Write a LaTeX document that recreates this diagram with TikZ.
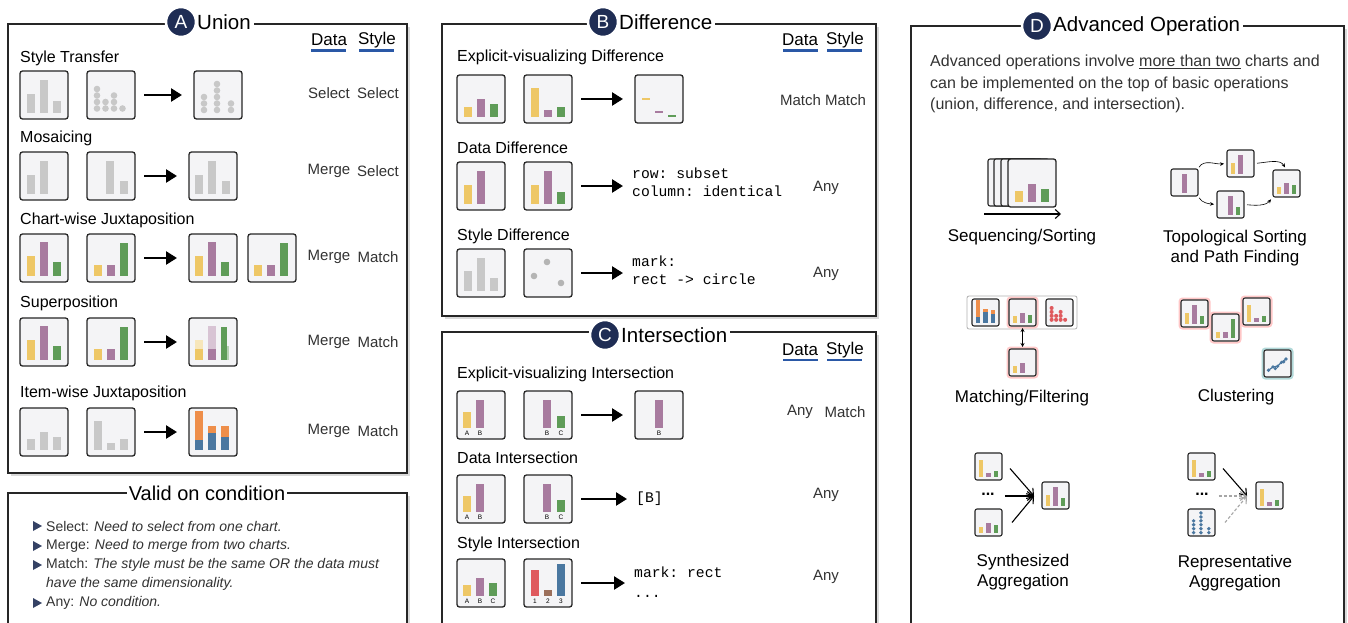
\documentclass[tikz,border=0pt]{standalone}
\usepackage{fontspec}
\setmainfont{Liberation Sans}
\setmonofont{Liberation Mono}
\usetikzlibrary{arrows.meta,calc}
\definecolor{cY}{HTML}{EEC766}
\definecolor{cP}{HTML}{A87B9F}
\definecolor{cG}{HTML}{5F9C58}
\definecolor{cGr}{HTML}{C8C8C8}
\definecolor{cBg}{HTML}{F4F4F6}
\definecolor{cO}{HTML}{EE8E4A}
\definecolor{cB}{HTML}{4A77A0}
\definecolor{cR}{HTML}{DF5A5E}
\definecolor{cBr}{HTML}{9B6F5A}
\definecolor{navy}{HTML}{1F2D54}
\definecolor{ulblue}{HTML}{2A58A6}
\definecolor{txt}{HTML}{333333}
\newcommand\fs[1]{\fontsize{#1}{#1}\selectfont}
% bar: color, left x, height (baseline 42)
\newcommand\cbar[3]{\fill[#1] (#2,42) rectangle ++(8,-#3);}
\newcommand\cbarb[4]{\fill[#1] (#2,#4) rectangle ++(8,-#3);}
\newcommand\cdt[3]{\fill[#1] (#2,#3) circle (3.3);}
\newcommand\chartat[4]{\node[chart,anchor=north west] (#1) at (#2,#3) {};
  \begin{scope}[shift={(#2,#3)}] #4 \end{scope}}
\newcommand\schartat[4]{\node[schart,anchor=north west] (#1) at (#2,#3) {};
  \begin{scope}[shift={(#2,#3)},scale=0.5625] #4 \end{scope}}
\newcommand\ticklbl[2]{\node[tick] at (#1,42) {#2};}
\tikzset{
  panel/.style={draw=black!85, line width=1.1pt},
  shadowbox/.style={fill=black!15},
  chart/.style={draw=black!85, line width=1.3pt, fill=cBg, rounded corners=2.5pt,
    minimum width=48pt, minimum height=48pt, inner sep=0pt, outer sep=0pt},
  schart/.style={draw=black!85, line width=1.1pt, fill=cBg, rounded corners=2pt,
    minimum width=27pt, minimum height=27pt, inner sep=0pt, outer sep=0pt},
  circ/.style={circle, fill=navy, draw=white, line width=2.5pt, text=white, minimum size=30pt, inner sep=0pt, font=\fs{19}},
  ttl/.style={anchor=west, fill=white, inner xsep=3pt, inner ysep=3pt, font=\fs{20.5}},
  hdr/.style={font=\fs{17}, inner sep=0pt},
  rowlbl/.style={anchor=west, inner sep=0pt, font=\fs{16}},
  cond/.style={font=\fs{15}, text=txt, inner sep=0pt},
  mono/.style={anchor=west, font=\ttfamily\fs{14.7}, inner sep=0pt, align=left},
  bigarr/.style={line width=2.5pt, -{Triangle[length=11pt,width=13pt]}, shorten <=9pt, shorten >=12pt},
  thinarr/.style={line width=0.6pt, -{Stealth[length=4pt,width=3.5pt]}},
  tick/.style={font=\fs{6.5}, inner sep=0pt},
  bul/.style={anchor=west, font=\fs{14}, text=txt, inner sep=0pt},
  dlbl/.style={font=\fs{17}, inner sep=0pt, align=center},
  synarr/.style={line width=1.1pt, -{Straight Barb[length=6pt,width=9pt]}},
  grarr/.style={line width=1.1pt, densely dashed, draw=black!35, -{Straight Barb[length=6pt,width=9pt]}},
  redglow/.style={draw=red!22, line width=2pt, rounded corners=3pt},
  tealglow/.style={draw=teal!30, line width=2pt, rounded corners=3pt},
}
\begin{document}
\begin{tikzpicture}[x=1pt,y=-1pt]
\useasboundingbox (0,0) rectangle (1348,623);
\fill[white] (0,0) rectangle (1348,623);

% ================= Panel A =================
\fill[shadowbox] (11,27) rectangle (410,476);
\draw[panel, fill=white] (8,24) rectangle (407,473);
\node[ttl] (tA) at (194,22) {Union};
\node[circ] (cA) at (181,22) {A};
\node[hdr] (hAd) at (329,40) {Data};
\node[hdr] (hAs) at (377,40) {Style};
\draw[ulblue, line width=2.6pt] (311,50.5) -- (346,50.5) (359,50.5) -- (394,50.5);

\node[rowlbl] (lA1) at (20,58) {Style Transfer};
\chartat{a11}{20}{71}{\cbar{cGr}{7}{19}\cbar{cGr}{20}{33}\cbar{cGr}{33}{12}}
\chartat{a12}{87}{71}{%
  \foreach \yy in {18,24.5,31,37.5}{\cdt{cGr}{10}{\yy}}
  \foreach \yy in {31,37.5}{\cdt{cGr}{18.5}{\yy}}
  \foreach \yy in {24.5,31,37.5}{\cdt{cGr}{27}{\yy}}
  \cdt{cGr}{35.5}{37.5}}
\chartat{a13}{194}{71}{%
  \foreach \yy in {26,32.5,39}{\cdt{cGr}{10}{\yy}}
  \foreach \yy in {13,19.5,26,32.5,39}{\cdt{cGr}{23}{\yy}}
  \foreach \yy in {32.5,39}{\cdt{cGr}{37}{\yy}}}
\draw[bigarr] (a12) -- (a13);
\node[cond] (cA1d) at (329,93) {Select};
\node[cond] (cA1s) at (378,93) {Select};

\node[rowlbl] (lA2) at (20,138) {Mosaicing};
\chartat{a21}{20}{152}{\cbar{cGr}{7}{19}\cbar{cGr}{20}{33}}
\chartat{a22}{87}{152}{\cbar{cGr}{19}{33}\cbar{cGr}{33}{13}}
\chartat{a23}{189}{152}{\cbar{cGr}{6}{19}\cbar{cGr}{19}{33}\cbar{cGr}{33}{13}}
\draw[bigarr] (a22) -- (a23);
\node[cond] (cA2d) at (329,171) {Merge};
\node[cond] (cA2s) at (378,171) {Select};

\node[rowlbl] (lA3) at (20,220) {Chart-wise Juxtaposition};
\chartat{a31}{20}{234}{\cbar{cY}{7}{20}\cbar{cP}{20}{34}\cbar{cG}{33}{14}}
\chartat{a32}{87}{234}{\cbar{cY}{7}{11}\cbar{cP}{20}{11}\cbar{cG}{33}{33}}
\chartat{a33}{189}{234}{\cbar{cY}{6}{20}\cbar{cP}{19}{34}\cbar{cG}{32}{14}}
\chartat{a34}{248}{234}{\cbar{cY}{6}{11}\cbar{cP}{19}{11}\cbar{cG}{32}{33}}
\draw[bigarr] (a32) -- (a33);
\node[cond] (cA3d) at (329,257) {Merge};
\node[cond] (cA3s) at (378,257) {Match};

\node[rowlbl] (lA4) at (20,303) {Superposition};
\chartat{a41}{20}{318}{\cbar{cY}{7}{20}\cbar{cP}{20}{34}\cbar{cG}{33}{14}}
\chartat{a42}{87}{318}{\cbar{cY}{7}{11}\cbar{cP}{20}{11}\cbar{cG}{33}{33}}
\chartat{a43}{189}{318}{\cbar{cY!45}{6}{20}\cbar{cP!45}{19}{34}\cbar{cG!45}{32}{14}
  \cbar{cY}{6}{11}\cbar{cP}{19}{11}\fill[cG] (32,42) rectangle ++(6,-33);}
\draw[bigarr] (a42) -- (a43);
\node[cond] (cA4d) at (329,342) {Merge};
\node[cond] (cA4s) at (378,342) {Match};

\node[rowlbl] (lA5) at (20,393) {Item-wise Juxtaposition};
\chartat{a51}{20}{408}{\cbar{cGr}{7}{11}\cbar{cGr}{20}{18}\cbar{cGr}{33}{13}}
\chartat{a52}{87}{408}{\cbar{cGr}{7}{29}\cbar{cGr}{20}{7}\cbar{cGr}{33}{11}}
\chartat{a53}{189}{408}{\cbar{cB}{6}{10}\fill[cO] (6,32) rectangle ++(8,-29);
  \cbar{cB}{19}{17}\fill[cO] (19,25) rectangle ++(8,-7);
  \cbar{cB}{32}{13}\fill[cO] (32,29) rectangle ++(8,-11);}
\draw[bigarr] (a52) -- (a53);
\node[cond] (cA5d) at (329,431) {Merge};
\node[cond] (cA5s) at (378,431) {Match};

% ================= Valid on condition =================
\fill[shadowbox] (11,496) rectangle (410,640);
\draw[panel, fill=white] (8,493) rectangle (407,640);
\node[fill=white, inner xsep=2pt, inner ysep=0pt, font=\fs{20}] (tV) at (207,493) {Valid on condition};
\foreach \yy in {526,546,565,603}{\fill[navy!90] (33,\yy-5) -- (42,\yy) -- (33,\yy+5) -- cycle;}
\node[bul] (v1) at (46,526) {Select: \textit{Need to select from one chart.}};
\node[bul] (v2) at (46,546) {Merge: \textit{Need to merge from two charts.}};
\node[bul] (v3) at (46,565) {Match: \textit{The style must be the same OR the data must}};
\node[bul] (v4) at (46,584) {\textit{have the same dimensionality.}};
\node[bul] (v5) at (46,603) {Any: \textit{No condition.}};

% ================= Panel B =================
\fill[shadowbox] (445,27) rectangle (879,319);
\draw[panel, fill=white] (442,24) rectangle (876,316);
\node[ttl] (tB) at (616,22) {Difference};
\node[circ] (cBc) at (603,22) {B};
\node[hdr] (hBd) at (800,40) {Data};
\node[hdr] (hBs) at (845,40) {Style};
\draw[ulblue, line width=2.6pt] (783,50.5) -- (818,50.5) (827,50.5) -- (862,50.5);

\node[rowlbl] (lB1) at (457,57) {Explicit-visualizing Difference};
\chartat{b11}{457}{75}{\cbar{cY}{7}{10}\cbar{cP}{20}{18}\cbar{cG}{33}{13}}
\chartat{b12}{524}{75}{\cbar{cY}{7}{29}\cbar{cP}{20}{7}\cbar{cG}{33}{10}}
\chartat{b13}{635}{75}{\fill[cY] (7,23) rectangle ++(8,1.8);
  \fill[cP] (20,36) rectangle ++(8,1.8);\fill[cG] (33,40) rectangle ++(8,1.8);}
\draw[bigarr] (b12) -- (b13);
\node[cond] (cB1) at (823,100) {Match Match};

\node[rowlbl] (lB2) at (457,148) {Data Difference};
\chartat{b21}{457}{162}{\cbar{cY}{7}{19}\cbar{cP}{20}{33}}
\chartat{b22}{524}{162}{\cbar{cY}{7}{19}\cbar{cP}{20}{33}\cbar{cG}{33}{12}}
\node[mono] (mB2) at (632,182) {row: subset\\[3pt]column: identical};
\draw[bigarr, shorten >=9pt] (b22) -- (b22 -| mB2.west);
\node[cond] (cB2) at (826,188) {Any};

\node[rowlbl] (lB3) at (457,236) {Style Difference};
\chartat{b31}{457}{249}{\cbar{cGr}{7}{20}\cbar{cGr}{20}{33}\cbar{cGr}{33}{13}}
\chartat{b32}{524}{249}{\cdt{cGr!90!black}{23}{13}\cdt{cGr!90!black}{10}{27}\cdt{cGr!90!black}{37}{34}}
\node[mono] (mB3) at (632,270) {mark:\\[3pt]rect -> circle};
\draw[bigarr, shorten >=9pt] (b32) -- (b32 -| mB3.west);
\node[cond] (cB3) at (826,274) {Any};

% ================= Panel C =================
\fill[shadowbox] (445,335) rectangle (879,640);
\draw[panel, fill=white] (442,332) rectangle (876,640);
\node[ttl] (tC) at (618,335) {Intersection};
\node[circ] (cCc) at (605,335) {C};
\node[hdr] (hCd) at (800,350) {Data};
\node[hdr] (hCs) at (845,350) {Style};
\draw[ulblue, line width=2.6pt] (783,360) -- (818,360) (827,360) -- (862,360);

\node[rowlbl] (lC1) at (457,374) {Explicit-visualizing Intersection};
\chartat{c11}{457}{391}{\cbarb{cY}{6}{16}{37}\cbarb{cP}{19}{28}{37}\ticklbl{10}{A}\ticklbl{23}{B}}
\chartat{c12}{524}{391}{\cbarb{cP}{19}{28}{37}\cbarb{cG}{33}{12}{37}\ticklbl{23}{B}\ticklbl{37}{C}}
\chartat{c13}{635}{391}{\cbarb{cP}{20}{28}{37}\ticklbl{24}{B}}
\draw[bigarr] (c12) -- (c13);
\node[cond] (cC1d) at (800,412) {Any};
\node[cond] (cC1s) at (845,412) {Match};

\node[rowlbl] (lC2) at (457,458) {Data Intersection};
\chartat{c21}{457}{475}{\cbarb{cY}{6}{16}{37}\cbarb{cP}{19}{28}{37}\ticklbl{10}{A}\ticklbl{23}{B}}
\chartat{c22}{524}{475}{\cbarb{cP}{19}{28}{37}\cbarb{cG}{33}{12}{37}\ticklbl{23}{B}\ticklbl{37}{C}}
\node[mono] (mC2) at (636,499) {[B]};
\draw[bigarr, shorten >=9pt] (c22) -- (c22 -| mC2.west);
\node[cond] (cC2) at (826,495) {Any};

\node[rowlbl] (lC3) at (457,544) {Style Intersection};
\chartat{c31}{457}{559}{\cbarb{cY}{6}{11}{37}\cbarb{cP}{19}{18}{37}\cbarb{cG}{32}{13}{37}
  \ticklbl{10}{A}\ticklbl{23}{B}\ticklbl{36}{C}}
\chartat{c32}{524}{559}{\cbarb{cR}{7}{26}{37}\cbarb{cBr}{20}{6}{37}\cbarb{cB}{33}{32}{37}
  \ticklbl{11}{1}\ticklbl{24}{2}\ticklbl{37}{3}}
\node[mono] (mC3) at (634,582) {mark: rect\\[5pt]...};
\draw[bigarr, shorten >=9pt] (c32) -- (c32 -| mC3.west);
\node[cond] (cC3) at (826,577) {Any};

% ================= Panel D =================
\fill[shadowbox] (914,29) rectangle (1347,640);
\draw[panel, fill=white] (911,26) rectangle (1344,640);
\node[ttl] (tD) at (1050,26) {Advanced Operation};
\node[circ] (cDc) at (1037,26) {D};
\node[anchor=west, inner sep=0pt, font=\fs{16}, text=txt, align=left] (desc) at (930,84)
  {Advanced operations involve \underline{more than two} charts and\\[5.5pt]
   can be implemented on the top of basic operations\\[5.5pt]
   (union, difference, and intersection).};

% Sequencing
\foreach \xx in {988,994,1001}{\draw[line width=1.1pt, fill=cBg, rounded corners=2pt, draw=black!85] (\xx,159) rectangle (\xx+48,206);}
\chartat{seqf}{1008}{159}{\cbarb{cY}{7}{11}{43}\cbarb{cP}{20}{18}{43}\cbarb{cG}{33}{13}{43}}
\coordinate (seqa) at (984,214);
\coordinate (seqb) at (1061,214);
\draw[line width=1.1pt, -{Straight Barb[length=5pt,width=9pt]}] (seqa) -- (seqb);
\node[dlbl] (lD1) at (1022,237) {Sequencing/Sorting};

% Topological
\schartat{tl}{1171}{169}{\cbar{cP}{20}{33}}
\schartat{tt}{1227}{150}{\cbar{cY}{7}{19}\cbar{cP}{20}{33}}
\schartat{tb}{1217}{191}{\cbar{cP}{20}{33}\cbar{cG}{33}{13}}
\schartat{tr}{1273}{170}{\cbar{cY}{7}{12}\cbar{cP}{20}{19}\cbar{cG}{33}{16}}
\draw[thinarr, shorten <=2pt, shorten >=3pt] (tl.north east) to[out=60,in=185] (tt.west);
\draw[thinarr, shorten <=3pt, shorten >=3pt] (tt.east) to[out=5,in=120] (tr.north);
\draw[thinarr, shorten <=2pt, shorten >=3pt] (tl.south east) to[out=-60,in=175] (tb.west);
\draw[thinarr, shorten <=3pt, shorten >=3pt] (tb.east) to[out=-5,in=-130] (tr.south west);
\node[dlbl] (lD2) at (1235,248) {Topological Sorting\\[3pt]and Path Finding};

% Matching / Filtering
\node[draw=black!30, line width=0.8pt, rounded corners=2pt, minimum width=110pt, minimum height=33pt, inner sep=0pt] (mbox) at (1022,312.5) {};
\draw[redglow] (1007.5,297.5) rectangle (1037.5,327.5);
\draw[redglow] (1007.5,347.5) rectangle (1037.5,377.5);
\schartat{m1}{972}{299}{\cbar{cB}{7}{10}\fill[cO] (7,32) rectangle ++(8,-30);
  \cbar{cB}{20}{19}\fill[cO] (20,23) rectangle ++(8,-6);
  \cbar{cB}{33}{15}\fill[cO] (33,27) rectangle ++(8,-8);}
\schartat{m2}{1009}{299}{\cbar{cY}{7}{11}\cbar{cP}{20}{18}\cbar{cG}{33}{13}}
\schartat{m3}{1046}{299}{%
  \foreach \yy in {16,23,30,37}{\fill[cR] (10,\yy) circle (3.6);}
  \foreach \yy in {30,37}{\fill[cR] (18,\yy) circle (3.6);}
  \foreach \yy in {23,30,37}{\fill[cR] (26,\yy) circle (3.6);}
  \fill[cR] (34,37) circle (3.6);}
\schartat{mb}{1009}{349}{\cbar{cY}{7}{11}\cbar{cP}{20}{18}}
\draw[line width=0.9pt, {Stealth[length=4pt,width=4pt]}-{Stealth[length=4pt,width=4pt]}, shorten <=2pt, shorten >=2pt] (m2) -- (mb);
\node[dlbl] (lD3) at (1022,398) {Matching/Filtering};

% Clustering
\draw[redglow] (1179.5,298.5) rectangle (1209.5,328.5);
\draw[redglow] (1210.5,312.5) rectangle (1240.5,342.5);
\draw[redglow] (1241.5,296.5) rectangle (1271.5,326.5);
\draw[tealglow] (1262.5,348.5) rectangle (1292.5,378.5);
\schartat{ca}{1181}{300}{\cbar{cY}{7}{19}\cbar{cP}{20}{33}\cbar{cG}{33}{13}}
\schartat{cb}{1212}{314}{\cbar{cY}{7}{10}\cbar{cP}{20}{10}\cbar{cG}{33}{33}}
\schartat{cc}{1243}{298}{\cbar{cY}{7}{29}\cbar{cP}{20}{7}\cbar{cG}{33}{10}}
\schartat{cd}{1264}{350}{\draw[cB, line width=1.2pt] (8,36) -- (16,30) -- (24,29) -- (31,22) -- (39,16);
  \foreach \p in {(8,36),(16,30),(24,29),(31,22),(39,16),(20,33),(35,21)}{\fill[cB] \p circle (3.2);}}
\node[dlbl] (lD4) at (1236,397) {Clustering};

% Synthesized aggregation
\schartat{st}{975}{453}{\cbar{cY}{7}{29}\cbar{cP}{20}{7}\cbar{cG}{33}{10}}
\schartat{sb}{975}{509}{\cbar{cY}{7}{10}\cbar{cP}{20}{18}\cbar{cG}{33}{13}}
\schartat{sr}{1042}{482}{\cbar{cY}{7}{19}\cbar{cP}{20}{33}\cbar{cG}{33}{13}}
\node[font=\bfseries\fs{16}, inner sep=0pt] (sdots) at (988,494) {...};
\coordinate (sj) at (1034,496);
\draw[synarr] ($(st.east)+(8,2)$) -- (sj);
\draw[synarr] ($(sdots.east)+(10,2)$) -- (sj);
\draw[synarr] ($(sb.east)+(10,0)$) -- (sj);
\node[dlbl] (lD5) at (1023,572) {Synthesized\\[3pt]Aggregation};

% Representative aggregation
\schartat{rt}{1188}{453}{\cbar{cY}{7}{29}\cbar{cP}{20}{7}\cbar{cG}{33}{10}}
\schartat{rb}{1188}{509}{%
  \foreach \yy in {21,28,35,42}{\fill[cB] (10,\yy) circle (3.4);}
  \foreach \yy in {7,14,21,28,35,42}{\fill[cB] (23,\yy) circle (3.4);}
  \foreach \yy in {35,42}{\fill[cB] (37,\yy) circle (3.4);}}
\schartat{rr}{1256}{482}{\cbar{cY}{7}{29}\cbar{cP}{20}{7}\cbar{cG}{33}{10}}
\node[font=\bfseries\fs{16}, inner sep=0pt] (rdots) at (1202,494) {...};
\coordinate (rj) at (1247,496);
\draw[synarr] ($(rt.east)+(8,2)$) -- (rj);
\draw[grarr] ($(rdots.east)+(10,2)$) -- (rj);
\draw[grarr] ($(rb.east)+(10,0)$) -- (rj);
\node[dlbl] (lD6) at (1235,573) {Representative\\[3pt]Aggregation};
\end{tikzpicture}
\end{document}
